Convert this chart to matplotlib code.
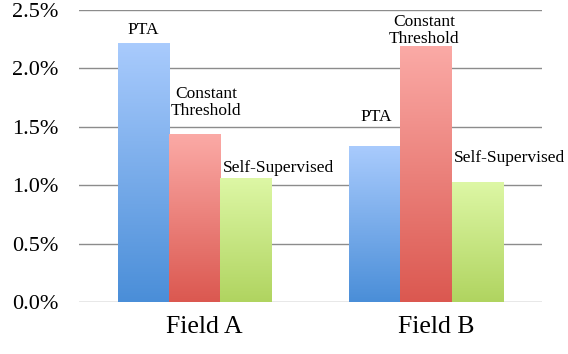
import numpy as np
import matplotlib
matplotlib.use("Agg")
import matplotlib.pyplot as plt
import matplotlib.transforms as mtransforms
from matplotlib.colors import LinearSegmentedColormap
from matplotlib.ticker import FuncFormatter

# error rate per field, one list per method (fractions)
fields = ["Field A", "Field B"]
methods = ["PTA", "Constant\nThreshold", "Self-Supervised"]
pta = [0.0221, 0.0133]
constant_threshold = [0.0143, 0.0219]
self_supervised = [0.0106, 0.0102]
yticks = [0.0, 0.005, 0.010, 0.015, 0.020, 0.025]

# (top, bottom) gradient colours for each method
grads = [("#a9cbfd", "#4a8ed8"), ("#fbaaa6", "#db5850"), ("#ddf7a5", "#b0d460")]
# label offsets in points, per method per field
label_off = [[(0, 10), (1, 21)],
             [(8, 23.5), (-1.5, 11.5)],
             [(23, 7), (23, 18)]]

plt.rcParams["font.family"] = ["Liberation Serif", "DejaVu Serif"]
fig = plt.figure(figsize=(5.68, 3.54), dpi=100)
ax = fig.add_axes([0.139, 0.147, 0.815, 0.825])

x = np.arange(len(fields))
w = 0.222
series = [pta, constant_threshold, self_supervised]
for i, vals in enumerate(series):
    xs = x + (i - 1) * w
    bars = ax.bar(xs, vals, w, color="none", edgecolor="none", zorder=3)
    cmap = LinearSegmentedColormap.from_list("g%d" % i, [grads[i][1], grads[i][0]])
    grad = np.linspace(0, 1, 256).reshape(-1, 1)
    for b, v in zip(bars, vals):
        x0 = b.get_x()
        ax.imshow(grad, cmap=cmap, origin="lower", aspect="auto",
                  extent=(x0, x0 + w, 0, v), zorder=3)
    for j, (xx, v) in enumerate(zip(xs, vals)):
        ax.annotate(methods[i], (xx, v), xytext=label_off[i][j], textcoords="offset points",
                    ha="center", va="center", multialignment="center", fontsize=12.5,
                    linespacing=1.1, annotation_clip=False, zorder=4)

ax.set_xlim(-0.5, 1.5)
ax.set_ylim(0, 0.025)
ax.set_yticks(yticks)
ax.yaxis.set_major_formatter(FuncFormatter(lambda v, _: "%.1f%%" % (v * 100)))
ax.set_xticks(x)
ax.set_xticklabels(fields)
ax.grid(axis="y", color="#8c8c8c", lw=1, zorder=1)
for s in ax.spines.values():
    s.set_visible(False)
ax.tick_params(axis="y", length=0, pad=15, labelsize=16)
ax.tick_params(axis="x", length=0, pad=10, labelsize=18.5)

# category names sit a little right of the group centre
shift = mtransforms.ScaledTranslation(7 / 72, 0, fig.dpi_scale_trans)
for lbl in ax.get_xticklabels():
    lbl.set_transform(lbl.get_transform() + shift)

fig.savefig("out.png", dpi=100)
